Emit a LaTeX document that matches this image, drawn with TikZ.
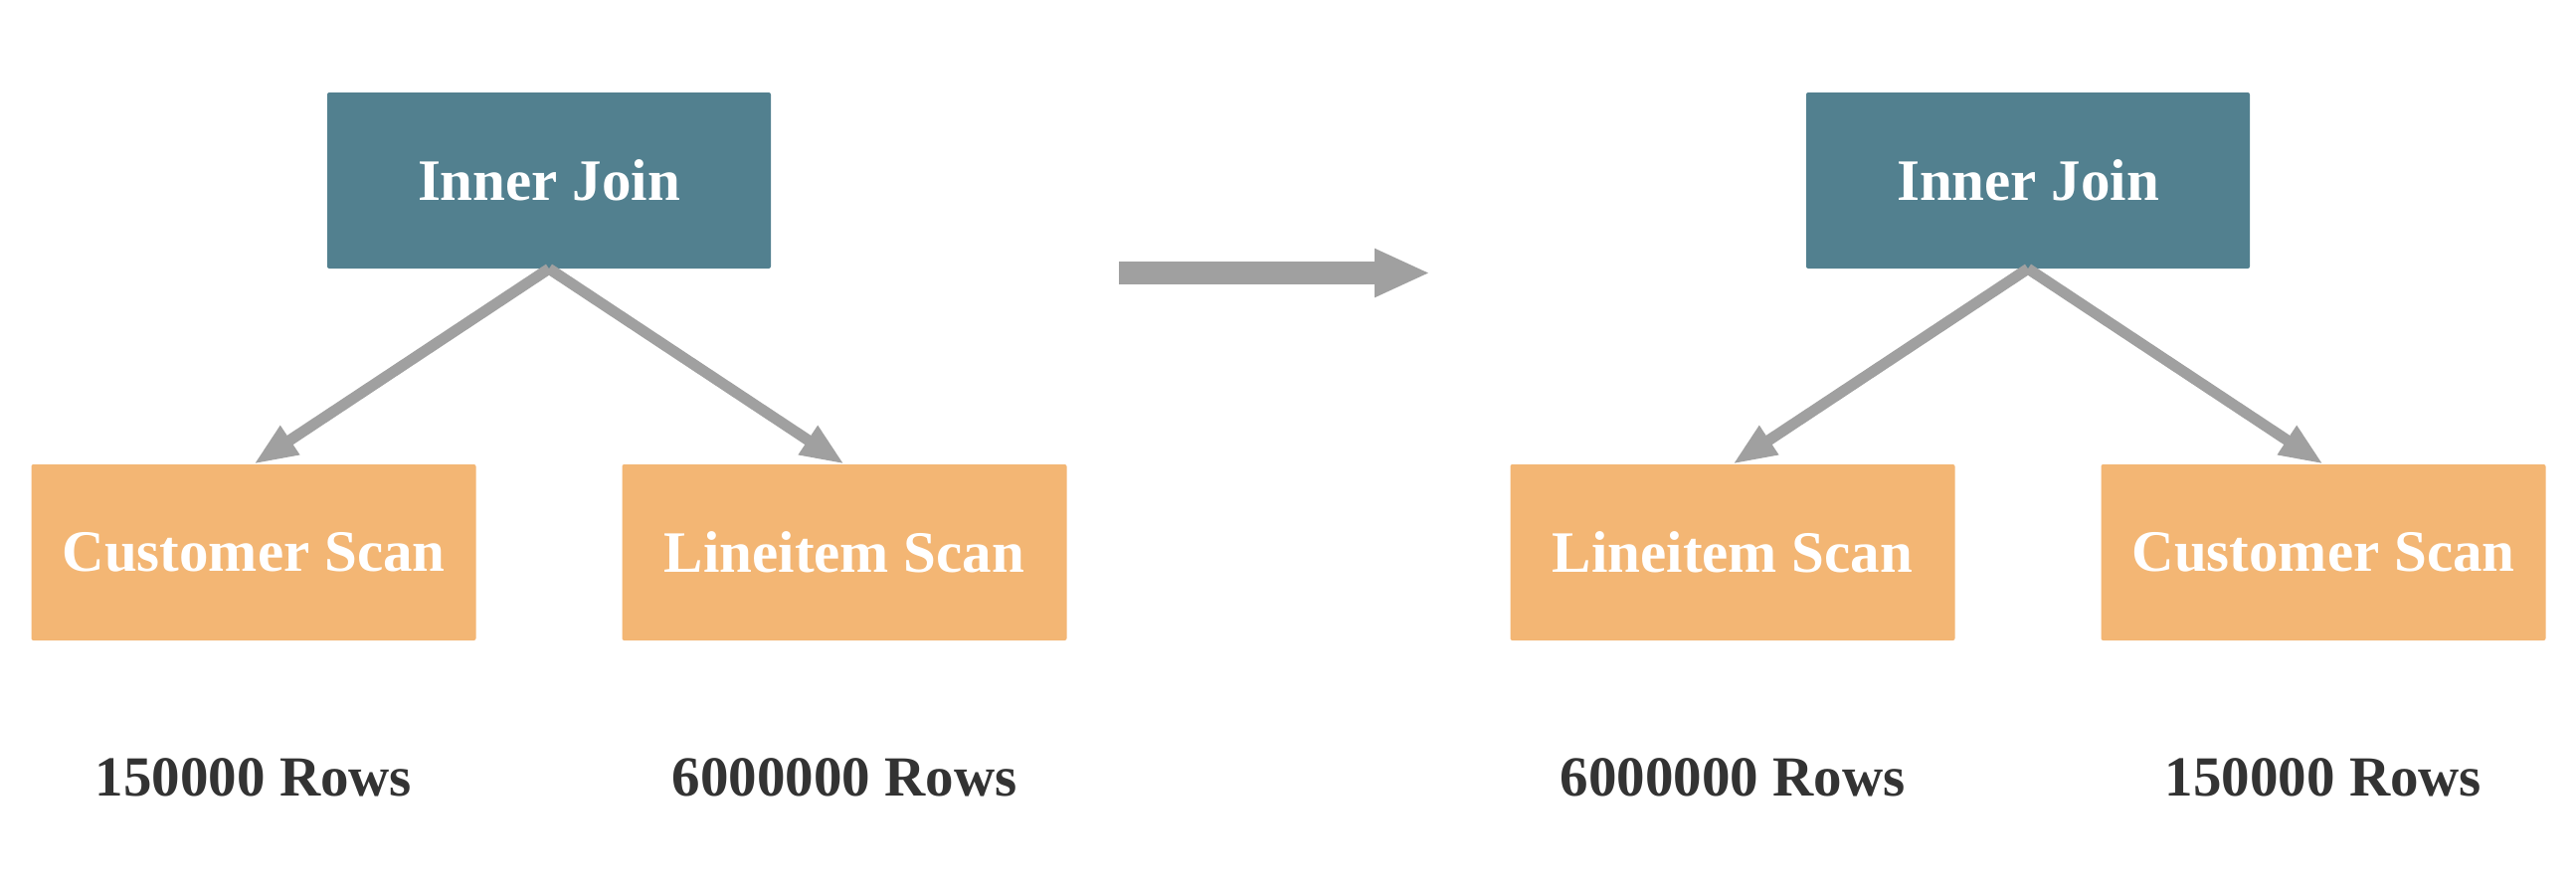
\documentclass[tikz,border=0pt]{standalone}
\usepackage{fontspec}
\setmainfont{Liberation Serif}
\usetikzlibrary{arrows.meta}
\definecolor{joinc}{RGB}{82,128,143}
\definecolor{scanc}{RGB}{243,182,116}
\definecolor{edgec}{RGB}{160,160,160}
\definecolor{rowc}{RGB}{51,51,51}
\tikzset{
  joinbox/.style={fill=joinc, draw=none, rounded corners=2pt, minimum width=446pt, minimum height=177pt, inner sep=0pt, text=white, font=\fontsize{59}{70}\selectfont\bfseries},
  scanbox/.style={fill=scanc, draw=none, rounded corners=2pt, minimum width=447pt, minimum height=177pt, inner sep=0pt, text=white, font=\fontsize{59}{70}\selectfont\bfseries},
  rowlbl/.style={text=rowc, inner sep=0pt, anchor=base, font=\fontsize{57}{68}\selectfont\bfseries},
  edge/.style={draw=edgec, line width=11pt, -{Triangle[length=44pt, width=32pt]}},
  bigarrow/.style={draw=edgec, line width=23pt, -{Triangle[length=56pt, width=45pt]}}
}
\begin{document}
\begin{tikzpicture}[x=1pt, y=-1pt]
\useasboundingbox (0,0) rectangle (2590,894);
% left tree
\node[joinbox] (ij1) at (552,181.5) {Inner Join};
\node[scanbox] (cs1) at (255,555.5) {Customer Scan};
\node[scanbox] (ls1) at (849,555.5) {Lineitem Scan};
\node[rowlbl] (r1) at (255,800) {150000 Rows};
\node[rowlbl] (r2) at (849,800) {6000000 Rows};
\draw[edge] (ij1.south) -- (cs1.north);
\draw[edge] (ij1.south) -- (ls1.north);
% middle arrow
\coordinate (a1) at (1125,274.5);
\coordinate (a2) at (1438,274.5);
\draw[bigarrow] (a1) -- (a2);
% right tree
\node[joinbox] (ij2) at (2039,181.5) {Inner Join};
\node[scanbox] (ls2) at (1742,555.5) {Lineitem Scan};
\node[scanbox] (cs2) at (2336,555.5) {Customer Scan};
\node[rowlbl] (r3) at (1742,800) {6000000 Rows};
\node[rowlbl] (r4) at (2336,800) {150000 Rows};
\draw[edge] (ij2.south) -- (ls2.north);
\draw[edge] (ij2.south) -- (cs2.north);
\end{tikzpicture}
\end{document}
